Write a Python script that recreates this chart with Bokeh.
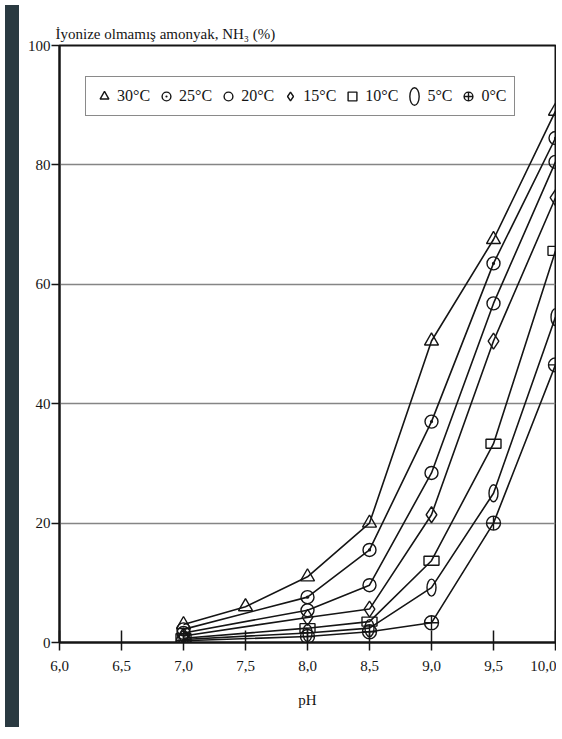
from bokeh.plotting import figure
from bokeh.models import Range1d, FixedTicker, Legend, LegendItem, Div
from bokeh.layouts import row
from bokeh.embed import file_html
from bokeh.resources import INLINE

# ---- data ----
ph_30 = [7.0, 7.5, 8.0, 8.5, 9.0, 9.5, 10.0]
nh3_30 = [3.0, 6.0, 11.0, 20.0, 50.5, 67.5, 89.0]
ph_common = [7.0, 8.0, 8.5, 9.0, 9.5, 10.0]
nh3_25 = [2.2, 7.6, 15.5, 37.0, 63.5, 84.5]
nh3_20 = [1.6, 5.4, 9.6, 28.4, 56.8, 80.5]
nh3_15 = [1.1, 4.2, 5.6, 21.4, 50.5, 74.5]
nh3_10 = [0.7, 2.4, 3.5, 13.7, 33.3, 65.6]
nh3_5 = [0.5, 1.6, 2.4, 9.2, 25.0, 54.5]
nh3_0 = [0.3, 1.0, 1.8, 3.3, 20.0, 46.5]
legend_labels = ["30°C", "25°C", "20°C", "15°C", "10°C", "5°C", "0°C"]
x_tick_values = [6.0, 6.5, 7.0, 7.5, 8.0, 8.5, 9.0, 9.5, 10.0]
x_tick_labels = ["6,0", "6,5", "7,0", "7,5", "8,0", "8,5", "9,0", "9,5", "10,0"]
y_tick_values = [0, 20, 40, 60, 80, 100]
y_grid_values = [20, 40, 60, 80]
title_text = "İyonize olmamış amonyak, NH₃ (%)"
x_label = "pH"

FONT = "'Liberation Serif', 'Times New Roman', serif"
INK = "#151515"

p = figure(width=532, height=722, x_range=Range1d(6, 10), y_range=Range1d(0, 100),
           output_backend="svg", toolbar_location=None,
           min_border_left=35, min_border_right=1, min_border_top=45, min_border_bottom=80,
           background_fill_color="white", border_fill_color="white")

p.outline_line_color = INK
p.outline_line_width = 2
p.outline_line_alpha = 1

p.title.text = title_text
p.title.align = "left"
p.title.offset = -4
p.title.standoff = 8
p.title.text_font = FONT
p.title.text_font_size = "15px"
p.title.text_font_style = "normal"
p.title.text_color = INK

# axes
p.xaxis.ticker = FixedTicker(ticks=x_tick_values)
p.xaxis.major_label_overrides = dict(zip(x_tick_values, x_tick_labels))
p.yaxis.ticker = FixedTicker(ticks=y_tick_values)
for ax in (p.xaxis[0], p.yaxis[0]):
    ax.axis_line_color = INK
    ax.axis_line_width = 2
    ax.major_tick_line_color = INK
    ax.major_tick_line_width = 1.5
    ax.minor_tick_line_color = None
    ax.major_label_text_font = FONT
    ax.major_label_text_font_size = "15px"
    ax.major_label_text_color = INK
p.xaxis.major_tick_in = 12
p.xaxis.major_tick_out = 8
p.xaxis.major_label_standoff = 10
p.yaxis.major_tick_in = 0
p.yaxis.major_tick_out = 8
p.yaxis.major_label_standoff = 1
p.xaxis.axis_label = x_label
p.xaxis.axis_label_text_font = FONT
p.xaxis.axis_label_text_font_size = "15px"
p.xaxis.axis_label_text_font_style = "normal"
p.xaxis.axis_label_text_color = INK
p.xaxis.axis_label_standoff = 18

p.xgrid.visible = False
p.ygrid.ticker = FixedTicker(ticks=y_grid_values)
p.ygrid.grid_line_color = "#858585"
p.ygrid.grid_line_width = 1.5

LW = 1.6
MW = 1.4

# lines
p.line(ph_30, nh3_30, line_color=INK, line_width=LW)
for ys in (nh3_25, nh3_20, nh3_15, nh3_10, nh3_5, nh3_0):
    p.line(ph_common, ys, line_color=INK, line_width=LW)

# markers
r30 = p.scatter(ph_30, nh3_30, marker="triangle", size=14, fill_color=None,
                line_color=INK, line_width=MW)
r25 = p.scatter(ph_common, nh3_25, marker="circle_dot", size=13, fill_color=None,
                line_color=INK, line_width=MW)
r20 = p.scatter(ph_common, nh3_20, marker="circle", size=13, fill_color=None,
                line_color=INK, line_width=MW)
r15 = p.scatter(ph_common, nh3_15, marker="diamond", size=16, fill_color=None,
                line_color=INK, line_width=MW)
r10 = p.rect(ph_common, nh3_10, width=15, height=9, width_units="screen",
             height_units="screen", fill_color=None, line_color=INK, line_width=MW)
r10_key = p.scatter(ph_common, nh3_10, marker="square", size=0, fill_color=None,
                    line_color=INK, line_width=MW)
r5 = p.ellipse(ph_common, nh3_5, width=9, height=17, width_units="screen",
               height_units="screen", fill_color=None, line_color=INK, line_width=MW)
r0 = p.scatter(ph_common, nh3_0, marker="circle_cross", size=14, fill_color=None,
               line_color=INK, line_width=MW)

legend = Legend(items=[
    LegendItem(label=legend_labels[0], renderers=[r30]),
    LegendItem(label=legend_labels[1], renderers=[r25]),
    LegendItem(label=legend_labels[2], renderers=[r20]),
    LegendItem(label=legend_labels[3], renderers=[r15]),
    LegendItem(label=legend_labels[4], renderers=[r10_key]),
    LegendItem(label=legend_labels[5], renderers=[r5]),
    LegendItem(label=legend_labels[6], renderers=[r0]),
], orientation="horizontal", location=(26, 526))
legend.label_text_font = FONT
legend.label_text_font_size = "16px"
legend.label_text_color = INK
legend.glyph_width = 22
legend.glyph_height = 24
legend.label_standoff = 2
legend.spacing = 5
legend.padding = 7
legend.margin = 0
legend.border_line_color = INK
legend.border_line_width = 1.5
legend.background_fill_color = "white"
legend.background_fill_alpha = 1
p.add_layout(legend)

strip = Div(text="", width=14, height=722,
            styles={"background-color": "#2a3a41"})
layout = row(strip, p)

open("out.html", "w").write(file_html(layout, INLINE))
